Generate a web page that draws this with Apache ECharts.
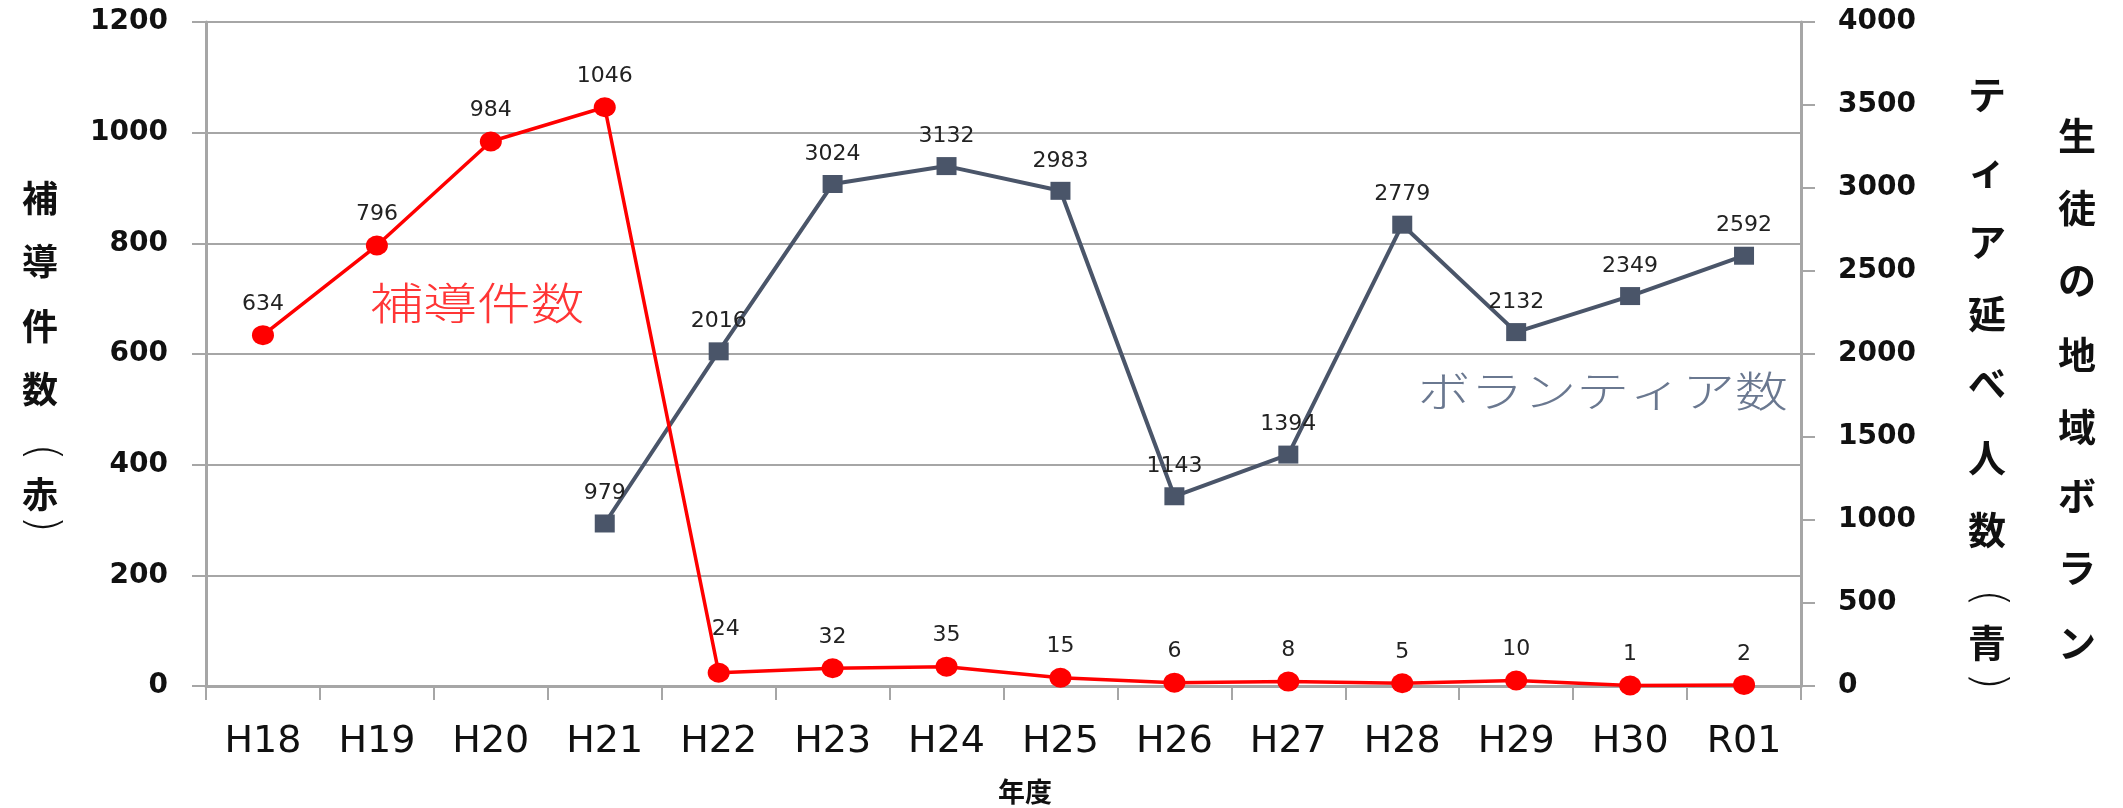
<!DOCTYPE html>
<html>
<head>
<meta charset="utf-8">
<script src="https://cdn.jsdelivr.net/npm/echarts@6/dist/echarts.min.js"></script>
<style>
html,body{margin:0;padding:0;background:#fff;}
#chart{width:2123px;height:808px;}
</style>
</head>
<body>
<div id="chart"></div>
<script>
const categories = ['H18','H19','H20','H21','H22','H23','H24','H25','H26','H27','H28','H29','H30','R01'];
const hodouCounts = [634, 796, 984, 1046, 24, 32, 35, 15, 6, 8, 5, 10, 1, 2];
const volunteerCounts = [null, null, null, 979, 2016, 3024, 3132, 2983, 1143, 1394, 2779, 2132, 2349, 2592];
const leftTicks = {min: 0, max: 1200, interval: 200};
const rightTicks = {min: 0, max: 4000, interval: 500};
const leftTitleChars = ['補','導','件','数','(','赤',')'];
const rightTitleChars1 = ['テ','ィ','ア','延','べ','人','数','(','青',')'];
const rightTitleChars2 = ['生','徒','の','地','域','ボ','ラ','ン'];

const gray = '#a6a6a6';
const red = '#ff0000';
const slate = '#4a5569';
const numFont = 'DejaVu Sans';
const jpFont = '"Noto Sans CJK JP"';

const chart = echarts.init(document.getElementById('chart'));

// layout of vertical titles (pixel centers of each glyph)
const leftTitleY = [198, 261, 326, 389, 452, 494, 524];
const right1Y = [95, 170, 242, 314, 383, 458, 530, 598, 643, 681];
const right2Y = [136, 208, 280, 355, 427, 496, 568, 643];

function verticalTitle(chars, ys, x, size) {
  return chars.map((ch, i) => {
    const isParen = (ch === '(' || ch === ')');
    const el = {
      type: 'text',
      x: x,
      y: ys[i],
      style: {
        text: ch,
        fontFamily: isParen ? numFont : jpFont,
        fontWeight: isParen ? 200 : 'bold',
        fontSize: isParen ? size + 8 : size,
        fill: '#111', align: 'center', verticalAlign: 'middle'
      }
    };
    if (isParen) {
      el.rotation = -Math.PI / 2;
    }
    return el;
  });
}

const axisNum = v => String(v);

// the H22 label sits a little higher and to the right in the original, clear of the falling line
const hodouData = hodouCounts.map((v, i) =>
  categories[i] === 'H22' ? {value: v, label: {offset: [7, -12]}} : v
);

const option = {
  animation: false,
  backgroundColor: '#ffffff',
  grid: {left: 206, right: 322, top: 22, bottom: 122, containLabel: false, outerBoundsMode: 'none'},
  xAxis: {
    type: 'category',
    data: categories,
    boundaryGap: true,
    axisLine: {show: true, lineStyle: {color: gray, width: 3}},
    axisTick: {show: true, length: 14, interval: 0, alignWithLabel: false, lineStyle: {color: gray, width: 2}},
    axisLabel: {interval: 0, fontFamily: numFont, fontSize: 38, color: '#111', margin: 37},
    splitLine: {show: false},
    name: '年度',
    nameLocation: 'middle',
    nameGap: 92,
    nameTextStyle: {fontFamily: jpFont, fontWeight: 'bold', fontSize: 27, color: '#111', padding: [0, 0, 0, 43]}
  },
  yAxis: [
    {
      type: 'value',
      min: leftTicks.min, max: leftTicks.max, interval: leftTicks.interval,
      position: 'left',
      axisLine: {show: true, lineStyle: {color: gray, width: 3}},
      axisTick: {show: true, length: 14, lineStyle: {color: gray, width: 2}},
      axisLabel: {fontFamily: numFont, fontWeight: 'bold', fontSize: 28, color: '#111', margin: 38, formatter: axisNum},
      splitLine: {show: true, lineStyle: {color: gray, width: 2}}
    },
    {
      type: 'value',
      min: rightTicks.min, max: rightTicks.max, interval: rightTicks.interval,
      position: 'right',
      axisLine: {show: true, lineStyle: {color: gray, width: 3}},
      axisTick: {show: true, length: 14, lineStyle: {color: gray, width: 2}},
      axisLabel: {fontFamily: numFont, fontWeight: 'bold', fontSize: 28, color: '#111', margin: 37, formatter: axisNum},
      splitLine: {show: false}
    }
  ],
  series: [
    {
      name: '補導件数',
      type: 'line',
      yAxisIndex: 0,
      data: hodouData,
      symbol: 'circle',
      symbolSize: [22, 20],
      itemStyle: {color: red},
      lineStyle: {color: red, width: 3.5},
      label: {show: true, position: 'top', distance: 10, fontFamily: numFont, fontSize: 22, color: '#222'},
      z: 3
    },
    {
      name: 'ボランティア数',
      type: 'line',
      yAxisIndex: 1,
      data: volunteerCounts,
      symbol: 'rect',
      symbolSize: [20, 18],
      itemStyle: {color: slate},
      lineStyle: {color: slate, width: 4},
      label: {show: true, position: 'top', distance: 10, fontFamily: numFont, fontSize: 22, color: '#222'},
      z: 2
    }
  ],
  graphic: [
    {
      type: 'text', x: 477, y: 303, scaleX: 1.22,
      style: {text: '補導件数', fontFamily: jpFont, fontWeight: 300, fontSize: 44, fill: '#ff3535', align: 'center', verticalAlign: 'middle'}
    },
    {
      type: 'text', x: 1788, y: 391, scaleX: 1.26,
      style: {text: 'ボランティア数', fontFamily: jpFont, fontWeight: 300, fontSize: 42, fill: '#6a7890', align: 'right', verticalAlign: 'middle'}
    }
  ]
    .concat(verticalTitle(leftTitleChars, leftTitleY, 40, 36))
    .concat(verticalTitle(rightTitleChars1, right1Y, 1987, 38))
    .concat(verticalTitle(rightTitleChars2, right2Y, 2077, 38))
};
chart.setOption(option);
</script>
</body>
</html>
